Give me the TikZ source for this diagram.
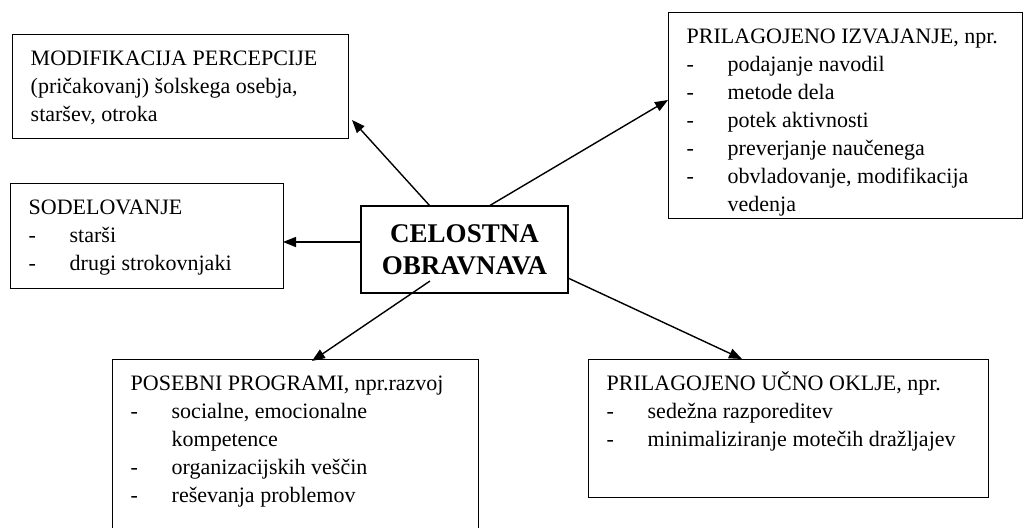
\documentclass[tikz,border=0pt]{standalone}
\usepackage{fontspec}
\setmainfont{Liberation Serif}
\usetikzlibrary{arrows.meta}
\newcommand{\boxbody}[3]{\parbox[t][#2][t]{#1}{\raggedright\leftskip=9pt\fontsize{11}{14}\selectfont\rule{0pt}{15.5pt}#3}}
\newcommand{\li}[1]{\par\hangindent=20.5pt\hangafter=1\noindent\makebox[20.5pt][l]{-}#1}
\newcommand{\brk}{\hfil\break}
\tikzset{
  infobox/.style={draw, line width=0.7pt, inner sep=0pt, anchor=north west},
  mainbox/.style={draw, line width=0.7pt, inner sep=0pt, minimum width=103.5pt, minimum height=43.5pt, align=center, font=\bfseries\fontsize{13.5}{16}\selectfont},
  arr/.style={-{Triangle[length=6.5pt,width=5pt]}, line width=0.7pt}
}
\begin{document}
\begin{tikzpicture}[x=0.5pt, y=-0.5pt]
\clip (0,0) rectangle (1023,527);
\fill[white] (0,0) rectangle (1023,527);

\node[infobox] (mod) at (12,34) {\boxbody{168pt}{52pt}{MODIFIKACIJA PERCEPCIJE\brk (pričakovanj) šolskega osebja,\brk staršev, otroka}};

\node[infobox] (izv) at (668,12) {\boxbody{177pt}{103pt}{PRILAGOJENO IZVAJANJE, npr.
\li{podajanje navodil}
\li{metode dela}
\li{potek aktivnosti}
\li{preverjanje naučenega}
\li{obvladovanje, modifikacija\brk vedenja}}};

\node[infobox] (sod) at (10,183) {\boxbody{136.5pt}{52.5pt}{SODELOVANJE
\li{starši}
\li{drugi strokovnjaki}}};

\node[mainbox] (cel) at (464.5,249.5) {CELOSTNA\\OBRAVNAVA};

\node[infobox] (pos) at (112,359) {\boxbody{183pt}{95pt}{POSEBNI PROGRAMI, npr.razvoj
\li{socialne, emocionalne\brk kompetence}
\li{organizacijskih veščin}
\li{reševanja problemov}}};

\node[infobox] (ucn) at (588,359) {\boxbody{200pt}{69pt}{PRILAGOJENO UČNO OKLJE, npr.
\li{sedežna razporeditev}
\li{minimaliziranje motečih dražljajev}}};

\coordinate (s1) at (430,206);
\coordinate (e1) at (352,120);
\coordinate (s2) at (489,206);
\coordinate (e2) at (668,100);
\coordinate (s3) at (361,242);
\coordinate (e3) at (283,242);
\coordinate (s4) at (430,281);
\coordinate (e4) at (312,361);
\coordinate (s5) at (568,278);
\coordinate (e5) at (742,359);

\draw[arr] (s1) -- (e1);
\draw[arr] (s2) -- (e2);
\draw[arr] (s3) -- (e3);
\draw[arr] (s4) -- (e4);
\draw[arr] (s5) -- (e5);
\end{tikzpicture}
\end{document}
